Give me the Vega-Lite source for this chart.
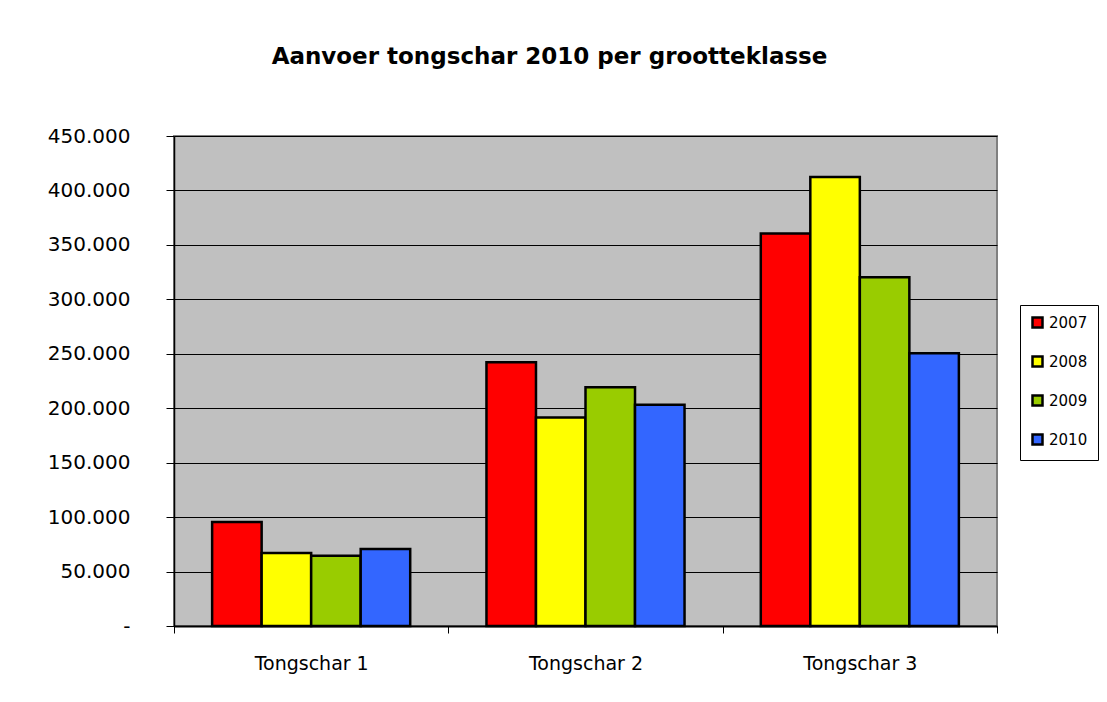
{
  "$schema": "https://vega.github.io/schema/vega-lite/v6.json",
  "width": 823,
  "height": 490,
  "autosize": {"type": "none"},
  "padding": {"left": 174, "top": 136, "right": 110, "bottom": 76},
  "background": "white",
  "title": {
    "text": "Aanvoer tongschar 2010 per grootteklasse",
    "font": "DejaVu Sans",
    "fontSize": 23,
    "fontWeight": "bold",
    "color": "black",
    "anchor": "middle",
    "frame": "group",
    "dx": -36,
    "offset": 57
  },
  "data": {
    "values": [
      {"klasse": "Tongschar 1", "jaar": "2007", "aanvoer": 95500},
      {"klasse": "Tongschar 1", "jaar": "2008", "aanvoer": 67100},
      {"klasse": "Tongschar 1", "jaar": "2009", "aanvoer": 64600},
      {"klasse": "Tongschar 1", "jaar": "2010", "aanvoer": 70800},
      {"klasse": "Tongschar 2", "jaar": "2007", "aanvoer": 242200},
      {"klasse": "Tongschar 2", "jaar": "2008", "aanvoer": 191400},
      {"klasse": "Tongschar 2", "jaar": "2009", "aanvoer": 219300},
      {"klasse": "Tongschar 2", "jaar": "2010", "aanvoer": 203100},
      {"klasse": "Tongschar 3", "jaar": "2007", "aanvoer": 360500},
      {"klasse": "Tongschar 3", "jaar": "2008", "aanvoer": 412400},
      {"klasse": "Tongschar 3", "jaar": "2009", "aanvoer": 320200},
      {"klasse": "Tongschar 3", "jaar": "2010", "aanvoer": 250500}
    ]
  },
  "mark": {"type": "bar", "stroke": "black", "strokeWidth": 2.5},
  "encoding": {
    "x": {
      "field": "klasse",
      "type": "nominal",
      "scale": {"paddingInner": 0, "paddingOuter": 0},
      "axis": {
        "title": null,
        "labelAngle": 0,
        "labelFont": "DejaVu Sans",
        "labelFontSize": 19,
        "labelColor": "black",
        "labelPadding": 21,
        "tickBand": "extent",
        "tickSize": 7,
        "tickColor": "black",
        "tickWidth": 1,
        "domainColor": "black",
        "domainWidth": 2
      }
    },
    "xOffset": {
      "field": "jaar",
      "type": "nominal",
      "scale": {"paddingInner": 0, "paddingOuter": 0.77}
    },
    "y": {
      "field": "aanvoer",
      "type": "quantitative",
      "scale": {"domain": [0, 450000], "nice": false},
      "axis": {
        "title": null,
        "values": [0, 50000, 100000, 150000, 200000, 250000, 300000, 350000, 400000, 450000],
        "labelExpr": "datum.value == 0 ? '-' : replace(format(datum.value, ',.0f'), ',', '.')",
        "labelFont": "DejaVu Sans",
        "labelFontSize": 20,
        "labelColor": "black",
        "labelPadding": 36,
        "tickSize": 8,
        "tickColor": "black",
        "tickWidth": 1,
        "domainColor": "black",
        "domainWidth": 1.5,
        "grid": true,
        "gridColor": "black",
        "gridWidth": 1.2,
        "gridOpacity": 1
      }
    },
    "color": {
      "field": "jaar",
      "type": "nominal",
      "scale": {
        "domain": ["2007", "2008", "2009", "2010"],
        "range": ["#FF0000", "#FFFF00", "#99CC00", "#3366FF"]
      },
      "legend": {
        "title": null,
        "orient": "none",
        "legendX": 846,
        "legendY": 169,
        "padding": 10,
        "strokeColor": "black",
        "fillColor": "white",
        "symbolType": "square",
        "symbolSize": 100,
        "symbolStrokeColor": "black",
        "symbolStrokeWidth": 2.5,
        "symbolOpacity": 1,
        "labelFont": "DejaVu Sans",
        "labelFontSize": 15,
        "labelColor": "black",
        "labelOffset": 4,
        "rowPadding": 18
      }
    }
  },
  "config": {
    "view": {"fill": "#C0C0C0", "stroke": "#808080", "strokeWidth": 2}
  }
}
